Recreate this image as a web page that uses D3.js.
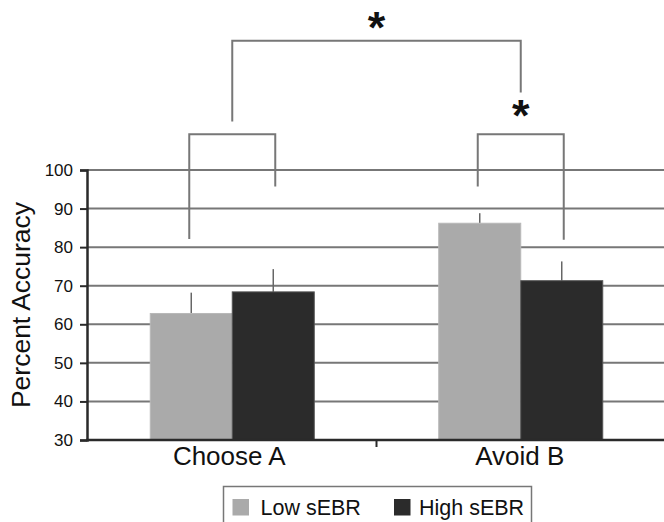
<!DOCTYPE html>
<html>
<head>
<meta charset="utf-8">
<script src="https://cdn.jsdelivr.net/npm/d3@7"></script>
<style>
  html, body { margin: 0; padding: 0; background: #fff; }
  svg { display: block; }
  text { font-family: "Liberation Sans", Arial, sans-serif; fill: #111; }
</style>
</head>
<body>
<div id="chart"></div>
<script>
// ---- data ----
const categories = ["Choose A", "Avoid B"];
const seriesNames = ["Low sEBR", "High sEBR"];
const lowValues = [62.8, 86.2];
const lowErrors = [5.4, 2.6];
const highValues = [68.4, 71.3];
const highErrors = [5.9, 5.0];
const yTicks = [30, 40, 50, 60, 70, 80, 90, 100];
const colors = ["#aaaaaa", "#2b2b2b"];

// ---- layout ----
const W = 664, H = 522;
const svg = d3.select("#chart").append("svg").attr("width", W).attr("height", H);

const y = d3.scaleLinear().domain([30, 100]).range([440, 170]);
const x0 = d3.scaleBand().domain(categories).range([88, 665])
  .paddingInner(0.4315).paddingOuter(0.2158);
const x1 = d3.scaleBand().domain(seriesNames).range([0, x0.bandwidth()]);

const plotLeft = 87, plotRight = 664;

// gridlines
svg.append("g").selectAll("line").data(yTicks.filter(t => t > 30)).join("line")
  .attr("x1", plotLeft).attr("x2", plotRight)
  .attr("y1", d => y(d)).attr("y2", d => y(d))
  .attr("stroke", "#777").attr("stroke-width", 2);

// significance brackets (in data coordinates, y extrapolated above 100)
const bracketColor = "#777";
const gBr = svg.append("g").attr("fill", "none").attr("stroke", bracketColor).attr("stroke-width", 2);
const cA = x0("Choose A") + x0.bandwidth() / 2;
const cB = x0("Avoid B") + x0.bandwidth() / 2;
const halfW = 43;
// Choose A bracket
gBr.append("path").attr("d", d3.line()([
  [cA - halfW, y(82.1)], [cA - halfW, y(109.3)], [cA + halfW, y(109.3)], [cA + halfW, y(95.7)]
]));
// Avoid B bracket
gBr.append("path").attr("d", d3.line()([
  [cB - halfW, y(95.7)], [cB - halfW, y(109.3)], [cB + halfW, y(109.3)], [cB + halfW, y(81.9)]
]));
// Top bracket
gBr.append("path").attr("d", d3.line()([
  [cA, y(112.6)], [cA, y(133.5)], [cB, y(133.5)], [cB, y(120.1)]
]));

// stars
const starFs = 45;
function star(cx, cyVal) {
  svg.append("text").attr("x", cx).attr("y", y(cyVal) + 0.48 * starFs)
    .attr("text-anchor", "middle").attr("font-size", starFs).attr("font-weight", "bold")
    .text("*");
}
star((cA + cB) / 2, 138.6);
star(cB, 115.6);

// bars
const data = categories.map((c, i) => ({
  cat: c,
  vals: [
    { s: seriesNames[0], v: lowValues[i], e: lowErrors[i], color: colors[0] },
    { s: seriesNames[1], v: highValues[i], e: highErrors[i], color: colors[1] }
  ]
}));

const groups = svg.append("g").selectAll("g").data(data).join("g")
  .attr("transform", d => `translate(${x0(d.cat)},0)`);

// error bars (upper only)
groups.selectAll("line.err").data(d => d.vals).join("line")
  .attr("class", "err")
  .attr("x1", d => x1(d.s) + x1.bandwidth() / 2)
  .attr("x2", d => x1(d.s) + x1.bandwidth() / 2)
  .attr("y1", d => y(d.v)).attr("y2", d => y(d.v + d.e))
  .attr("stroke", "#666").attr("stroke-width", 1.5);

groups.selectAll("rect").data(d => d.vals).join("rect")
  .attr("x", d => x1(d.s)).attr("width", x1.bandwidth())
  .attr("y", d => y(d.v)).attr("height", d => y(30) - y(d.v))
  .attr("fill", d => d.color)
  .attr("stroke", (d, i) => i === 0 ? "#b8b8b8" : "#555").attr("stroke-width", 1);

// y axis
const yAxis = d3.axisLeft(y).tickValues(yTicks).tickSize(7).tickPadding(7);
const gy = svg.append("g").attr("transform", `translate(${plotLeft},0)`).call(yAxis);
gy.select(".domain").attr("stroke", "#2a2a2a").attr("stroke-width", 2.5);
gy.selectAll(".tick line").attr("stroke", "#2a2a2a").attr("stroke-width", 2);
gy.selectAll(".tick text").attr("font-size", 17).attr("fill", "#111")
  .attr("font-family", "Liberation Sans, Arial, sans-serif");

// x axis
const xAxis = d3.axisBottom(x0).tickSize(0).tickPadding(7);
const gx = svg.append("g").attr("transform", `translate(0,${y(30)})`).call(xAxis);
gx.select(".domain").remove();
gx.selectAll(".tick text").attr("font-size", 26).attr("fill", "#111")
  .attr("dx", (d, i) => i === 0 ? -3 : -1)
  .attr("font-family", "Liberation Sans, Arial, sans-serif");
svg.append("line").attr("x1", plotLeft - 1).attr("x2", plotRight)
  .attr("y1", y(30)).attr("y2", y(30)).attr("stroke", "#2a2a2a").attr("stroke-width", 2.5);
// category separator tick
const sepX = (x0("Choose A") + x0.bandwidth() + x0("Avoid B")) / 2;
svg.append("line").attr("x1", sepX).attr("x2", sepX)
  .attr("y1", y(30)).attr("y2", y(30) + 7).attr("stroke", "#2a2a2a").attr("stroke-width", 2);

// y title
svg.append("text").attr("transform", `translate(30,${(y(30) + y(100)) / 2}) rotate(-90)`)
  .attr("text-anchor", "middle").attr("font-size", 26.5).text("Percent Accuracy");

// legend
const lg = svg.append("g");
lg.append("rect").attr("x", 223.5).attr("y", 486.5).attr("width", 308).attr("height", 60)
  .attr("fill", "#fff").attr("stroke", "#777").attr("stroke-width", 1.5);
const legendItems = [
  { name: seriesNames[0], color: colors[0], sx: 232.5, tx: 260.5 },
  { name: seriesNames[1], color: colors[1], sx: 394, tx: 419 }
];
legendItems.forEach(it => {
  lg.append("rect").attr("x", it.sx).attr("y", 499).attr("width", 16.5).attr("height", 16.5)
    .attr("fill", it.color);
  lg.append("text").attr("x", it.tx).attr("y", 514.5).attr("font-size", 21.5).text(it.name);
});
</script>
</body>
</html>
